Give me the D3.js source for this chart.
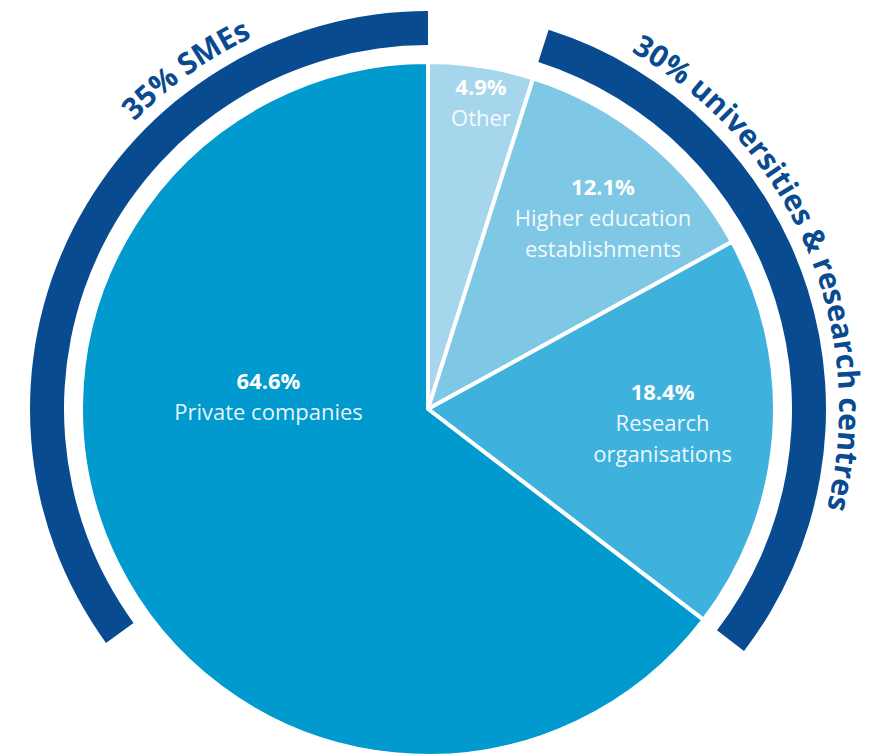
<!DOCTYPE html>
<html>
<head>
<meta charset="utf-8">
<script src="https://cdn.jsdelivr.net/npm/d3@7"></script>
<style>
  body { margin: 0; background: #fff; }
  svg { display: block; font-family: "Open Sans", "DejaVu Sans", sans-serif; }
</style>
</head>
<body>
<div id="chart"></div>
<script>
// slices, clockwise from 12 o'clock
var categories = ["Other", "Higher education establishments", "Research organisations", "Private companies"];
var shares = [4.9, 12.1, 18.4, 64.6];
var shareLabels = ["4.9%", "12.1%", "18.4%", "64.6%"];
var nameLines = [["Other"], ["Higher education", "establishments"], ["Research", "organisations"], ["Private companies"]];

// outer groups, spans given in percent of the full circle
var groupLabels = ["35% SMEs", "30% universities & research centres"];
var groupFrom = [-35, 4.9];
var groupTo = [0, 35.4];

(function () {
    var width = 881, height = 755,
        cx = 428, cy = 409,
        radius = 347,
        ringInner = 364, ringOuter = 398,
        textRadius = 411;

    var colors = ["#a6d6ec", "#7ec8e6", "#3eb2dc", "#009acf"],
        dark = "#084b91";

    // label placement: angle (deg, clockwise from top) and distance from centre
    var labelAngle = [9.8, 42.5, 93.4, 274.6],
        labelRadius = [311, 259, 235, 160];
    var groupTextCenter = [-35.5, 66.8];

    var pct = d3.scaleLinear().domain([0, 100]).range([0, 2 * Math.PI]);

    var svg = d3.select("#chart").append("svg")
        .attr("width", width)
        .attr("height", height)
        .append("g")
        .attr("transform", "translate(" + cx + "," + cy + ")");

    var pie = d3.pie().sort(null).value(function (d) { return d; });
    var arcs = pie(shares);

    var arc = d3.arc().innerRadius(0).outerRadius(radius);

    // slices
    svg.selectAll(".slice")
        .data(arcs)
        .enter().append("path")
        .attr("class", "slice")
        .attr("d", arc)
        .style("fill", function (d, i) { return colors[i]; })
        .style("stroke", "#fff")
        .style("stroke-width", 4)
        .style("stroke-linejoin", "round");

    // outer group rings
    var ring = d3.arc().innerRadius(ringInner).outerRadius(ringOuter);
    svg.selectAll(".ring")
        .data(groupLabels)
        .enter().append("path")
        .attr("class", "ring")
        .attr("d", function (d, i) {
            return ring({ startAngle: pct(groupFrom[i]), endAngle: pct(groupTo[i]) });
        })
        .style("fill", dark);

    // paths for the ring text (half circle centred on the label angle)
    var defs = svg.append("defs");
    var pathLen = Math.PI * textRadius;
    groupLabels.forEach(function (d, i) {
        var c = groupTextCenter[i] * Math.PI / 180 - Math.PI / 2;
        var p = d3.path();
        p.arc(0, 0, textRadius, c - Math.PI / 2, c + Math.PI / 2);
        defs.append("path").attr("id", "gp" + i).attr("d", p.toString());
    });

    // measure with a hidden straight text, then lay out word by word
    var measure = svg.append("text")
        .style("font-size", "30px")
        .style("font-weight", "bold")
        .style("visibility", "hidden");

    groupLabels.forEach(function (label, i) {
        measure.text(label);
        var node = measure.node();
        var total = node.getComputedTextLength();
        var words = label.split(" ");
        var idx = 0;
        words.forEach(function (w) {
            var off = pathLen / 2 - total / 2 + (idx > 0 ? node.getSubStringLength(0, idx) : 0);
            svg.append("text")
                .attr("class", "group-label")
                .style("font-size", "30px")
                .style("font-weight", "bold")
                .style("fill", dark)
                .append("textPath")
                .attr("href", "#gp" + i)
                .attr("startOffset", off)
                .text(w);
            idx += w.length + 1;
        });
    });
    measure.remove();

    // slice labels, one text per line
    var lh = 31;
    arcs.forEach(function (d, i) {
        var a = labelAngle[i] * Math.PI / 180;
        var g = svg.append("g")
            .attr("class", "label")
            .attr("transform", "translate(" + (labelRadius[i] * Math.sin(a)) + "," + (-labelRadius[i] * Math.cos(a)) + ")");
        var lines = [shareLabels[i]].concat(nameLines[i]);
        var y0 = -(lines.length - 1) * lh / 2 + 8;
        g.selectAll("text")
            .data(lines)
            .enter().append("text")
            .attr("x", 0)
            .attr("y", function (t, j) { return y0 + j * lh; })
            .style("text-anchor", "middle")
            .style("font-size", "22px")
            .style("font-weight", function (t, j) { return j === 0 ? "bold" : "normal"; })
            .style("fill", "#fff")
            .style("fill-opacity", function (t, j) { return j === 0 ? 1 : 0.92; })
            .text(function (t) { return t; });
    });
})();
</script>
</body>
</html>
